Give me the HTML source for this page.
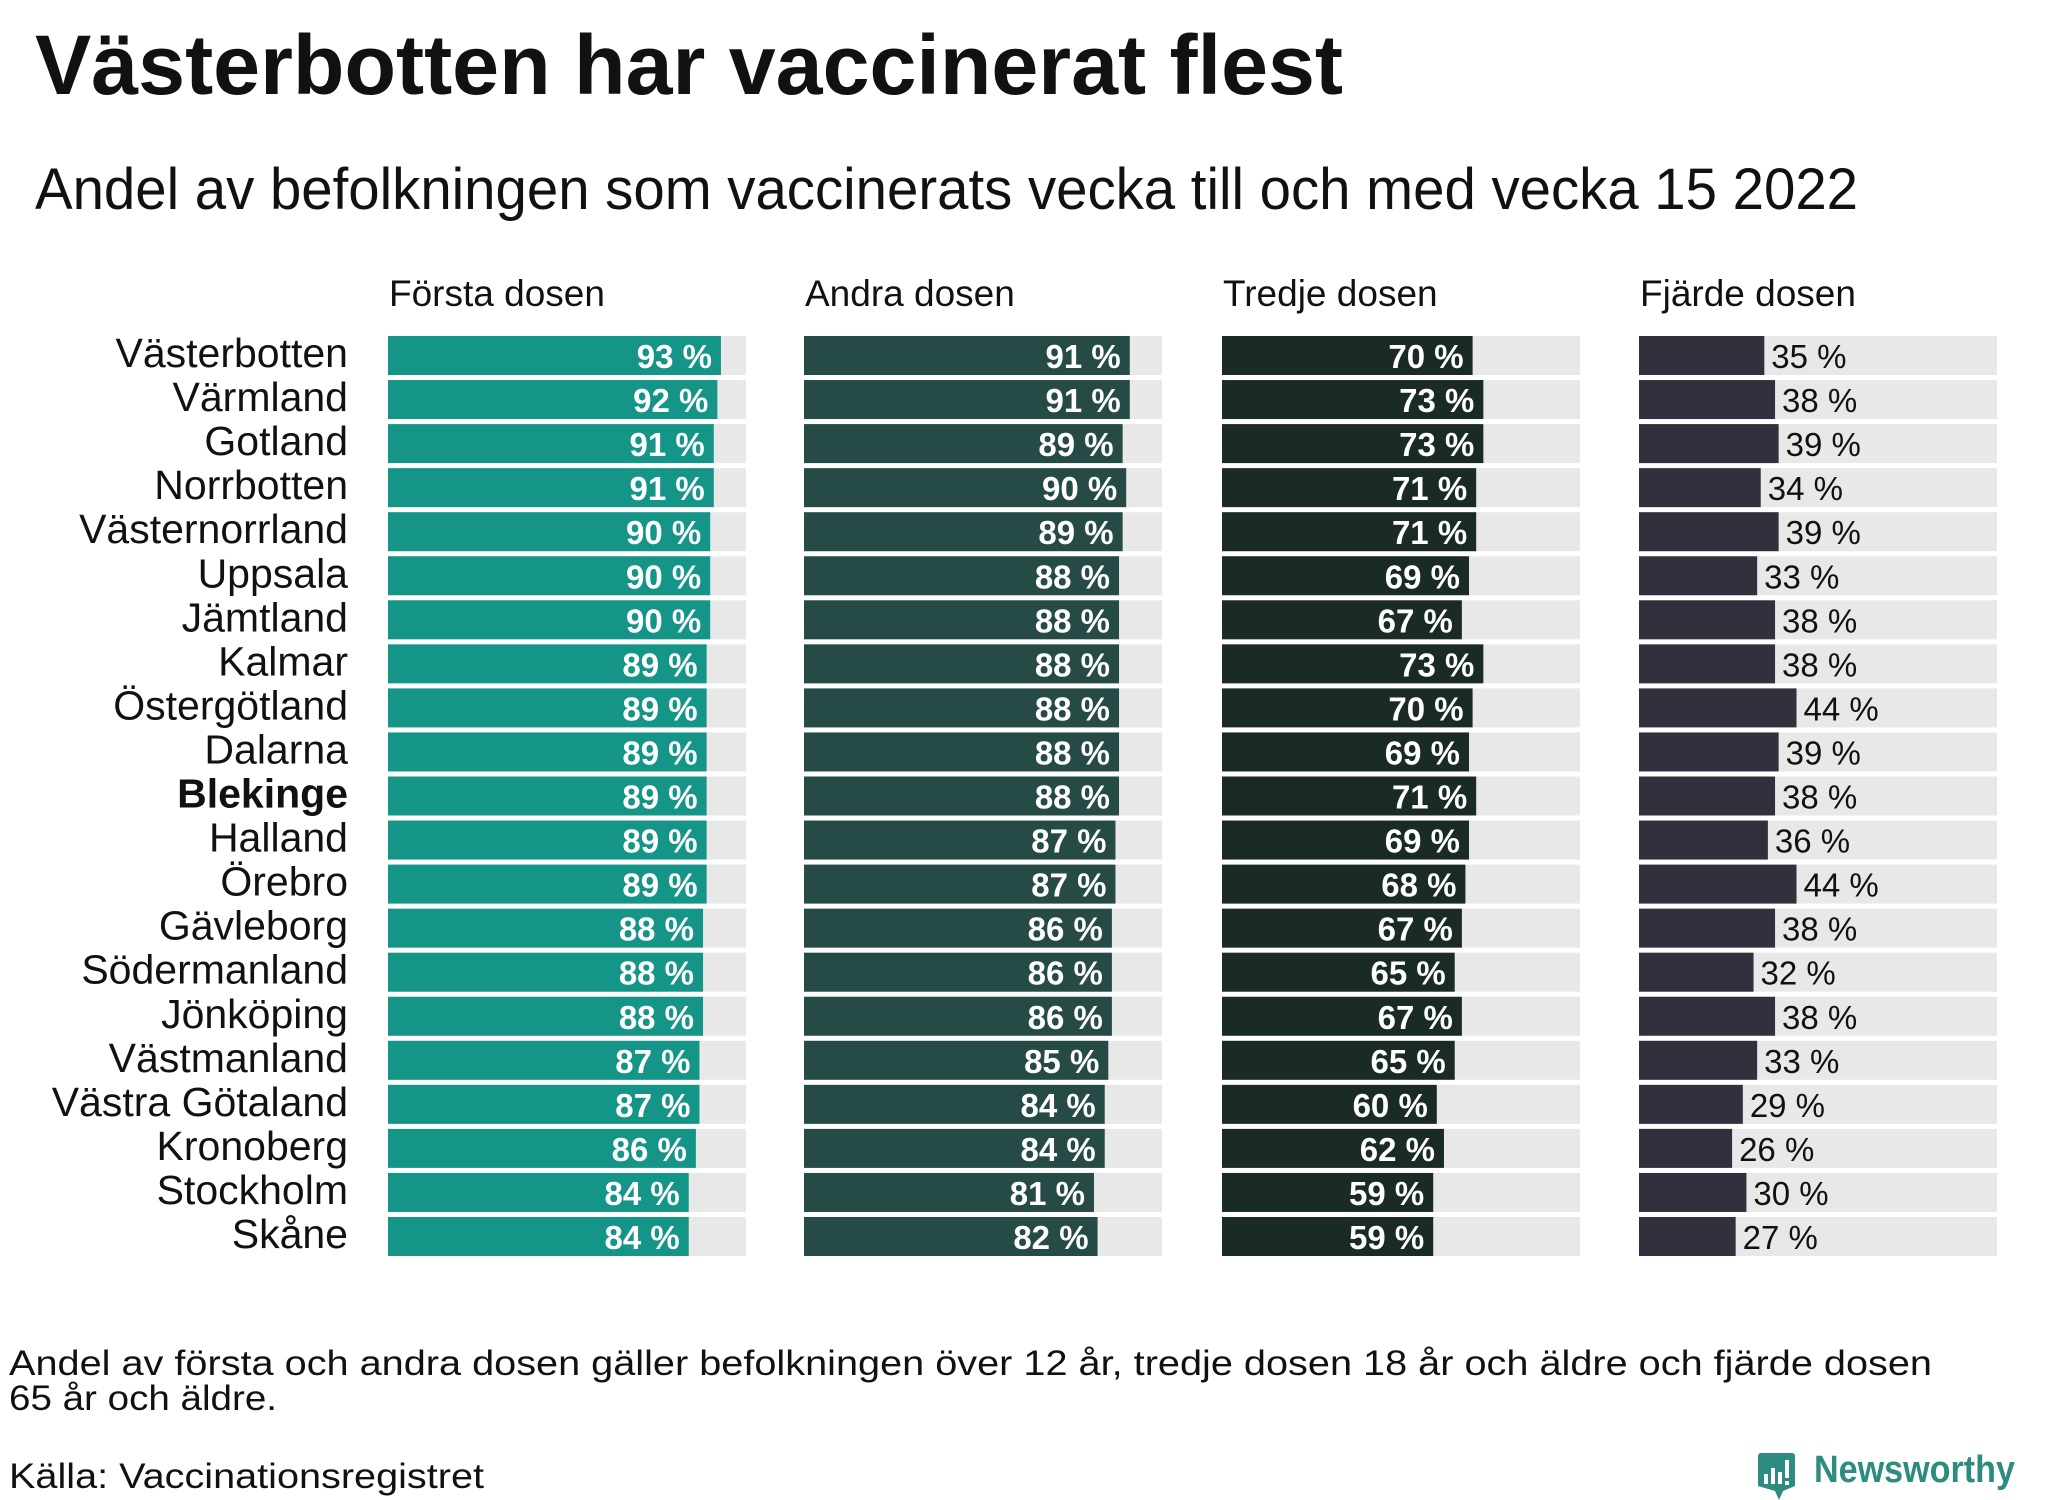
<!DOCTYPE html>
<html><head><meta charset="utf-8">
<style>
html,body{margin:0;padding:0;background:#fff;}
svg{display:block;font-family:"Liberation Sans","DejaVu Sans",sans-serif;}
</style></head>
<body>
<svg id="chart" width="2048" height="1500" viewBox="0 0 2048 1500" xmlns="http://www.w3.org/2000/svg">
<text x="35" y="94" font-size="84" font-weight="bold" fill="#111" textLength="1308" lengthAdjust="spacingAndGlyphs">Västerbotten har vaccinerat flest</text>
<text x="35" y="209" font-size="58" fill="#111" textLength="1823" lengthAdjust="spacingAndGlyphs">Andel av befolkningen som vaccinerats vecka till och med vecka 15 2022</text>
<g id="plot"></g>
<text x="9" y="1375" font-size="35" fill="#111" textLength="1923" lengthAdjust="spacingAndGlyphs">Andel av första och andra dosen gäller befolkningen över 12 år, tredje dosen 18 år och äldre och fjärde dosen</text>
<text x="9" y="1410" font-size="35" fill="#111" textLength="268" lengthAdjust="spacingAndGlyphs">65 år och äldre.</text>
<text x="9" y="1488" font-size="35" fill="#111" textLength="475" lengthAdjust="spacingAndGlyphs">Källa: Vaccinationsregistret</text>
<g>
<path d="M1758 1453 h34 a3 3 0 0 1 3 3 v30 l-12 5 l-4 9 l-4 -9 l-17 -5 v-30 a3 3 0 0 1 3 -3z" fill="#2e8b80"/>
<rect x="1764" y="1474" width="4" height="10" fill="#fff"/><rect x="1771" y="1468" width="4" height="16" fill="#fff"/><rect x="1778" y="1472" width="4" height="12" fill="#fff"/><rect x="1785" y="1460" width="4" height="18" fill="#fff"/><rect x="1785" y="1481" width="4" height="4" fill="#fff"/>
<text x="1814" y="1482" font-size="38" font-weight="bold" fill="#2e8b80" textLength="201" lengthAdjust="spacingAndGlyphs">Newsworthy</text>
</g>
</svg>
<script>
const regions = ["Västerbotten","Värmland","Gotland","Norrbotten","Västernorrland","Uppsala","Jämtland","Kalmar","Östergötland","Dalarna","Blekinge","Halland","Örebro","Gävleborg","Södermanland","Jönköping","Västmanland","Västra Götaland","Kronoberg","Stockholm","Skåne"];
const dose1 = [93,92,91,91,90,90,90,89,89,89,89,89,89,88,88,88,87,87,86,84,84];
const dose2 = [91,91,89,90,89,88,88,88,88,88,88,87,87,86,86,86,85,84,84,81,82];
const dose3 = [70,73,73,71,71,69,67,73,70,69,71,69,68,67,65,67,65,60,62,59,59];
const dose4 = [35,38,39,34,39,33,38,38,44,39,38,36,44,38,32,38,33,29,26,30,27];
const doseTitles = ["Första dosen","Andra dosen","Tredje dosen","Fjärde dosen"];
const highlighted = "Blekinge";

const NS = "http://www.w3.org/2000/svg";
const plot = document.getElementById("plot");
const series = [dose1, dose2, dose3, dose4];
const colors = ["#149587","#264a45","#1a2a27","#33303d"];
const colX = [388, 804, 1222, 1639];
const colW = 358;
const rowTop = 336, rowPitch = 44.05, barH = 39;
function xScale(v){ return v / 100 * colW; }
function yScale(i){ return rowTop + i * rowPitch; }
function mk(tag, attrs, parent){
  const e = document.createElementNS(NS, tag);
  for (const k in attrs) e.setAttribute(k, attrs[k]);
  parent.appendChild(e);
  return e;
}
regions.forEach((r, i) => {
  const t = mk("text", {x: 348, y: yScale(i) + 31, "text-anchor": "end", "font-size": 41, fill: "#111"}, plot);
  
  
  if (r === highlighted) t.setAttribute("font-weight", "bold");
  t.textContent = r;
});
series.forEach((vals, c) => {
  const h = mk("text", {x: colX[c] + 1, y: 306, "font-size": 37, fill: "#111"}, plot);
  
  
  h.textContent = doseTitles[c];
  vals.forEach((v, i) => {
    const y = yScale(i);
    const bg = mk("rect", {x: colX[c], y: y, width: colW, height: barH, fill: "#e8e8e8"}, plot);
    
    
    const w = xScale(v);
    const b = mk("rect", {x: colX[c], y: y, width: w, height: barH, fill: colors[c]}, plot);
    
    
    let lbl;
    if (c < 3) {
      lbl = mk("text", {x: colX[c] + w - 9, y: y + 32, "text-anchor": "end", "font-size": 33, "font-weight": "bold", fill: "#fff"}, plot);
    } else {
      lbl = mk("text", {x: colX[c] + w + 7, y: y + 32, "font-size": 33, fill: "#111"}, plot);
    }
    
    
    lbl.textContent = v + " %";
  });
});
</script>
</body></html>
